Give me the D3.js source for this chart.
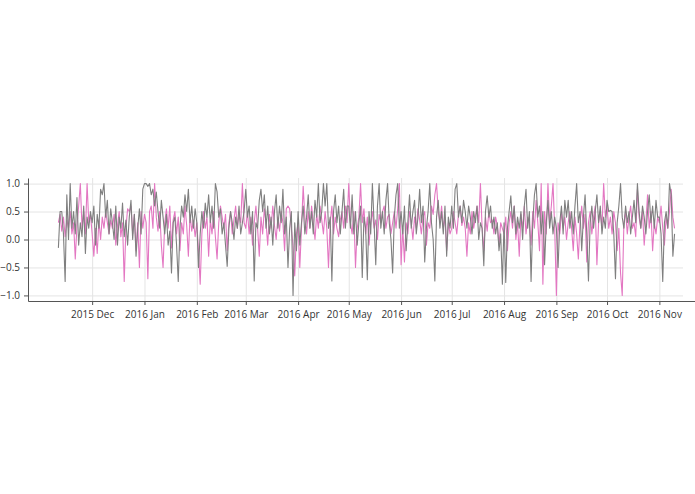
<!DOCTYPE html>
<html>
<head>
<meta charset="utf-8">
<script src="https://cdn.jsdelivr.net/npm/d3@7"></script>
<style>
    body { margin: 0; background: #fff; }
    .axis text { font-family: "Open Sans", sans-serif; font-size: 10px; fill: #333; }
    .axis path, .axis line { stroke: #555; }
    .grid line { stroke: #e4e4e4; }
    .grid path { display: none; }
</style>
</head>
<body>
<div id="chart"></div>
<script>
// daily values, 2015-11-11 .. 2016-11-10
const startDate = new Date(2015, 10, 11);

const pinkValues = [
    0.3, 0.45, 0.15, 0.4, 0.05, 0.35, 0.2, 0.5, 0.1, 0.3, -0.35, 0.25, 0.6, 1.0, 0.2, 0.5, 0.1, 1.0, 0.3, 0.45,
    0.1, -0.3, 0.2, -0.25, 0.35, 0.0, 0.4, 0.2, 0.5, 0.3, 0.1, 0.35, 0.2, 0.45, -0.1, 0.25, 0.5, 0.05, 0.3, -0.75, 0.2, 0.55, 0.5, 0.6, 0.1, 0.45, -0.2, 0.3, -0.5, 0.5, 0.2,
    0.45, 0.3, -0.7, 0.5, 0.6, 0.2, 1.0, 0.4, 0.15, 0.5, -0.1, -0.5, 0.3, 0.55, 0.2, 0.6, -0.15, 0.35, 0.5, 0.1, 0.4, -0.2, 0.3, 0.1, 0.6, 0.25, -0.3, 0.45, 0.15, 0.35, 0.05,
    0.3, -0.2, -0.8, 0.1, 0.5, 0.2, 0.4, -0.3, 0.35, 0.1, 0.5, 0.05, -0.35, 0.3, 0.6, 0.4, 0.2, 0.45, -0.2, 0.3, 0.5, 0.1, 0.35, 0.6, 0.2, 0.45, 0.3, 1.0, 0.3,
    0.2, 0.5, 0.1, 0.4, -0.1, 0.3, 0.6, 0.2, -0.3, 0.4, 0.1, 0.55, 0.3, -0.1, 0.45, 0.2, 0.6, 0.25, 0.0, 0.4, 0.15, 0.5, 0.3, -0.2, 0.55, 0.6, 0.55, 0.2, -0.1, -0.65, 0.1,
    0.3, -0.5, 0.2, 0.95, 0.4, 0.1, 0.5, 0.2, 0.6, 0.3, 0.0, 0.45, 0.2, 0.6, 0.35, 0.1, 0.5, 0.2, -0.5, 0.3, 0.6, 0.1, 0.4, 0.2, 0.05, 0.35, 0.5, 0.2, 0.6, 0.3,
    1.0, 0.3, 0.1, 0.5, -0.5, 0.2, 0.4, 1.0, 0.3, 0.55, 0.1, 0.4, -0.1, 0.3, 0.5, 0.2, 0.35, 0.0, 0.45, 0.3, 0.5, 0.6, 0.2, 0.4, 0.45, 0.1, 0.3, 0.5, 0.2, 0.55, 1.0,
    -0.45, 0.2, -0.4, 0.3, 0.1, 0.5, 0.3, 0.0, 0.4, 0.2, 0.55, 0.35, 0.1, 0.4, 0.5, -0.1, 0.3, 0.2, 0.6, 0.45, 0.8, 1.0, 0.5, 0.3, 0.6, 0.2, 0.4, -0.2, 0.3, 0.1,
    0.2, 0.5, 0.3, 0.1, 0.45, 0.6, 0.25, 0.4, 0.2, -0.3, 0.3, 0.1, 0.5, 0.2, 0.4, 0.6, 0.3, 1.0, 0.2, -0.2, 0.4, 0.15, 0.5, 0.3, 0.35, 0.1, 0.4, 0.25, -0.1, 0.3, 0.2,
    0.1, 0.4, -0.2, 0.3, 0.5, 0.2, 0.6, 0.0, 0.3, -0.3, 0.45, 0.2, 0.6, 0.1, 0.4, 0.3, -0.1, 0.5, 0.2, 0.7, 0.3, -0.2, 1.0, -0.8, 0.5, 0.1, 1.0, 0.3, 0.6, 1.0, 0.2,
    -1.0, 0.3, 0.1, 0.5, 0.2, 0.4, 0.0, 0.3, 0.5, 0.2, -0.2, 0.4, 0.1, -0.35, 0.3, 0.6, 0.2, 0.45, -0.4, 0.3, 0.5, 0.1, 0.4, 0.6, -0.45, 0.3, 0.5, 0.2, 1.0, 0.4,
    0.6, 0.2, 0.4, 0.1, 0.5, 0.3, -0.2, 0.2, -0.6, -1.0, 0.3, 0.5, 0.1, 0.4, 0.6, 0.2, 0.3, 0.05, 0.9, 0.4, 0.2, 0.5, -0.1, 0.3, 0.8, 0.2, 0.5, -0.2, 0.3, 0.1, 0.4,
    0.3, 0.6, 0.2, -0.1, 0.4, 0.2, 0.5, 0.9, 0.4, 0.2,
];

const grayValues = [
    -0.15, 0.5, 0.5, 0.1, -0.75, 0.8, 0.0, 1.0, 0.2, 0.5, 0.1, 0.75, -0.1, 0.3, 0.05, 0.6, -0.25, 0.4, 0.2, 0.5,
    0.3, 0.6, -0.1, 0.45, 0.2, 0.9, 0.8, 1.0, 0.4, 0.7, 0.1, 0.55, 0.3, 0.0, 0.6, -0.1, 0.4, 0.2, 0.65, 0.05, 0.35, -0.1, 0.4, 0.7, 0.0, 0.45, -0.3, 0.2, 0.55, 0.1, 0.9,
    1.0, 1.0, 0.95, 1.0, 0.8, 0.9, 0.6, 0.85, 0.5, 0.2, 0.7, 0.4, 0.1, 0.45, -0.1, 0.15, -0.6, 0.3, 0.4, -0.1, -0.75, 0.2, 0.6, 0.4, 0.8, 0.5, 0.9, 0.3, 0.6, 0.2, 0.55,
    0.3, -0.5, 0.1, 0.5, 0.2, 0.65, 0.4, 0.8, 0.3, 0.6, 0.2, 1.0, 0.85, 0.4, 0.55, 0.1, 0.3, -0.1, -0.48, 0.2, 0.5, 0.3, 0.0, 0.4, 0.2, 0.6, 0.1, 0.3, 0.5,
    0.9, 0.4, 0.6, 0.1, 0.5, -0.74, 0.3, 0.2, 0.7, 0.9, 0.5, 0.8, 0.2, 0.6, 0.1, 0.4, -0.1, 0.5, 0.8, 0.2, 0.6, 0.3, 0.9, 0.1, 0.4, -0.5, 0.2, 0.5, -1.0, 0.3, -0.2,
    0.5, -0.1, 0.3, 0.6, 0.1, 0.4, 0.8, 0.2, 0.5, 0.1, 0.7, 0.4, 1.0, 0.3, 0.5, 1.0, 0.6, 1.0, 0.2, 0.4, -0.74, 0.5, 0.8, 0.3, 0.6, 0.1, 0.5, 0.9, 0.2, 0.6,
    0.6, 0.2, 0.8, 0.1, 0.5, -0.1, 0.3, 0.6, -0.68, 0.4, 0.2, -0.72, 0.5, 0.1, 1.0, 0.3, -0.45, 0.6, 1.0, 0.2, 0.5, 0.1, 0.7, 1.0, 0.3, 0.0, -0.6, 0.4, 0.8, 1.0, 0.2,
    0.5, 0.1, 0.6, -0.2, 0.3, 0.8, 0.2, 0.5, 0.7, 0.1, 0.4, 0.9, 0.3, 0.6, -0.4, 0.2, 0.5, 1.0, 0.3, 0.0, -0.74, 0.4, 0.7, 0.2, 0.5, 0.1, 0.6, -0.3, 0.4, 0.2,
    0.6, 0.2, 0.9, 1.0, 0.4, 0.6, 0.3, 0.7, 0.5, 0.2, 0.6, 0.4, 0.1, 0.5, 0.3, 0.6, 0.0, 0.3, 0.2, -0.47, 0.5, 0.78, 0.4, 0.6, 0.2, 0.4, 0.1, 0.3, -0.2, 0.1, -0.8,
    0.3, -0.77, 0.2, 0.5, 0.78, 0.3, 0.6, 0.1, 0.4, 0.2, 0.5, 0.0, 0.6, 0.9, 0.2, 0.5, -0.75, 0.3, 0.8, 1.0, 0.4, 0.6, 0.1, 0.5, -0.45, 0.3, 0.7, 0.2, 0.5, 0.1, 0.4,
    0.2, -0.5, 0.3, 0.6, 0.1, 0.7, 0.4, 0.7, 0.2, 0.5, 0.1, 0.6, 1.0, 0.3, 0.5, -0.2, 0.4, 0.8, 0.1, -0.74, 0.3, 0.6, 0.2, 0.5, 0.8, 0.3, 0.6, 0.1, 0.4, 0.2,
    0.7, 0.5, 0.52, 0.5, 0.1, -0.7, 0.3, 0.6, 1.0, 0.4, 0.2, 0.6, 0.3, 0.5, 0.1, 0.4, 0.7, 0.3, 1.0, 0.5, 0.2, 0.6, 0.4, 0.1, 0.5, 0.8, 0.3, 0.6, 0.2, 0.7, 0.4,
    0.4, 0.1, -0.75, 0.3, 0.5, 0.2, 1.0, 0.8, -0.3, 0.1,
];

const yTicks = [-1.0, -0.5, 0.0, 0.5, 1.0];
const seriesColors = ['#e377c2', '#7f7f7f'];

const width = 695;
const height = 494;
const margin = {top: 178, right: 12, bottom: 193, left: 28};
const innerW = width - margin.left - margin.right;
const innerH = height - margin.top - margin.bottom;

const toSeries = (values) => values.map((v, i) => ({
    date: d3.timeDay.offset(startDate, i),
    value: v,
}));
const series = [toSeries(pinkValues), toSeries(grayValues)];

const x = d3.scaleTime()
    .domain([new Date(2015, 9, 24), new Date(2016, 10, 15)])
    .range([0, innerW]);

const y = d3.scaleLinear()
    .domain([-1.1, 1.1])
    .range([innerH, 0]);

const svg = d3.select('#chart')
    .append('svg')
    .attr('width', width)
    .attr('height', height)
    .append('g')
    .attr('transform', 'translate(' + margin.left + ',' + margin.top + ')');

const monthTicks = d3.timeMonth.range(new Date(2015, 11, 1), new Date(2016, 10, 2));

// grid
svg.append('g')
    .attr('class', 'grid')
    .call(d3.axisLeft(y).tickValues(yTicks).tickSize(-innerW).tickFormat(''));
svg.append('g')
    .attr('class', 'grid')
    .attr('transform', 'translate(0,' + innerH + ')')
    .call(d3.axisBottom(x).tickValues(monthTicks).tickSize(-innerH).tickFormat(''));

const line = d3.line()
    .x((d) => x(d.date))
    .y((d) => y(d.value));

svg.selectAll('.series')
    .data(series)
    .enter()
    .append('path')
    .attr('class', 'series')
    .attr('fill', 'none')
    .attr('stroke', (d, i) => seriesColors[i])
    .attr('stroke-width', 1.1)
    .attr('stroke-linejoin', 'round')
    .attr('d', line);

const xAxisG = svg.append('g')
    .attr('class', 'axis')
    .attr('transform', 'translate(0,' + innerH + ')')
    .call(d3.axisBottom(x)
        .tickValues(monthTicks)
        .tickSizeInner(4)
        .tickSizeOuter(0)
        .tickPadding(6)
        .tickFormat(d3.timeFormat('%Y %b')));

// axis line runs on to the right edge of the svg
xAxisG.append('line')
    .attr('x1', innerW)
    .attr('x2', width - margin.left)
    .attr('y1', 0.5)
    .attr('y2', 0.5);

svg.append('g')
    .attr('class', 'axis')
    .call(d3.axisLeft(y)
        .tickValues(yTicks)
        .tickSizeInner(4)
        .tickSizeOuter(0)
        .tickPadding(4)
        .tickFormat(d3.format('.1f')));
</script>
</body>
</html>
